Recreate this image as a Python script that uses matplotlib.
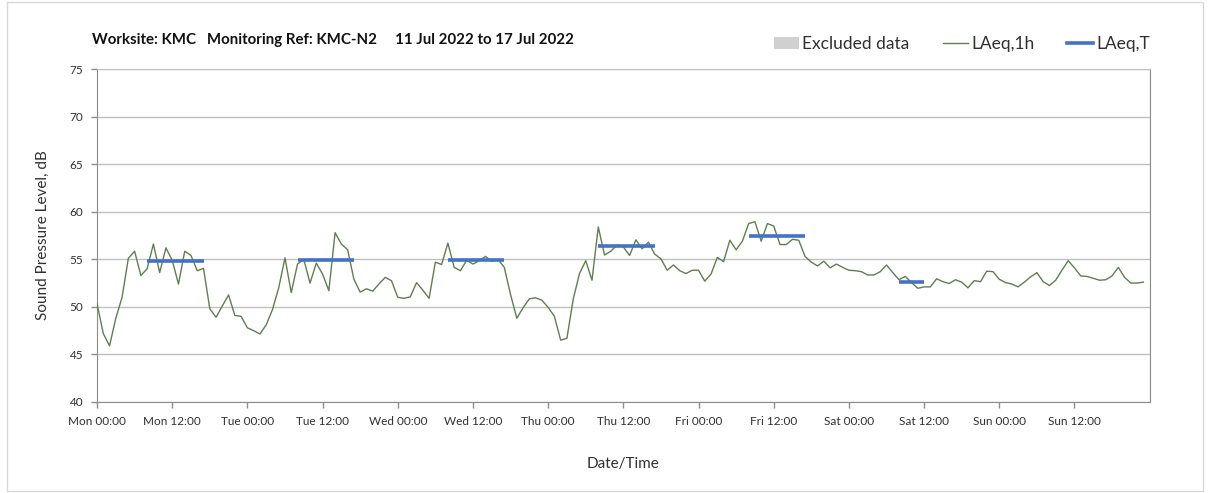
import numpy as np
import pandas as pd
import matplotlib
matplotlib.use("Agg")
import matplotlib.pyplot as plt
from matplotlib.patches import Patch, Rectangle
from matplotlib.lines import Line2D

plt.rcParams['font.family'] = ['Lato', 'DejaVu Sans']

# hourly LAeq,1h from Mon 11 Jul 2022 00:00
laeq_1h = [
    50.35, 47.2, 45.9, 48.8, 51.0, 55.1, 55.85, 53.3, 54.0, 56.6, 53.6, 56.2,
    54.9, 52.4, 55.85, 55.4, 53.8, 54.05, 49.8, 48.9, 50.1, 51.25, 49.1, 49.0,
    47.8, 47.5, 47.15, 48.1, 49.7, 52.0, 55.15, 51.5, 54.5, 55.0, 52.5, 54.6,
    53.45, 51.7, 57.8, 56.6, 56.0, 52.9, 51.55, 51.9, 51.65, 52.4, 53.1, 52.75,
    51.0, 50.9, 51.05, 52.55, 51.75, 50.9, 54.7, 54.45, 56.7, 54.15, 53.8, 54.9,
    54.5, 54.85, 55.3, 54.8, 55.0, 54.15, 51.3, 48.8, 49.9, 50.85, 50.95, 50.7,
    49.95, 49.0, 46.5, 46.7, 50.8, 53.5, 54.85, 52.8, 58.4, 55.45, 55.85, 56.5,
    56.3, 55.4, 57.05, 56.1, 56.8, 55.55, 55.05, 53.85, 54.4, 53.8, 53.5, 53.85,
    53.85, 52.7, 53.45, 55.2, 54.75, 57.0, 56.0, 56.9, 58.75, 58.95, 56.9, 58.75,
    58.5, 56.55, 56.55, 57.1, 57.0, 55.3, 54.7, 54.3, 54.8, 54.1, 54.5, 54.15,
    53.85, 53.8, 53.7, 53.35, 53.35, 53.7, 54.4, 53.6, 52.85, 53.2, 52.55, 51.95,
    52.1, 52.1, 52.95, 52.65, 52.45, 52.85, 52.6, 52.0, 52.75, 52.65, 53.75, 53.7,
    52.9, 52.55, 52.4, 52.1, 52.6, 53.15, 53.6, 52.65, 52.25, 52.8, 53.85, 54.85,
    54.1, 53.25, 53.2, 53.0, 52.8, 52.85, 53.25, 54.15, 53.1, 52.5, 52.5, 52.6,
]

# LAeq,T periods: (start hour, end hour, level)
period_start = [8, 32, 56, 80, 104, 128]
period_end = [17, 41, 65, 89, 113, 132]
laeq_t = [54.8, 54.9, 54.9, 56.4, 57.5, 52.6]

excluded = []  # no excluded periods this week

times = pd.date_range("2022-07-11 00:00", periods=len(laeq_1h), freq="h")
t0 = pd.Timestamp("2022-07-11 00:00")

fig = plt.figure(figsize=(12.08, 4.93), dpi=100)
ax = fig.add_axes([0.0803, 0.1846, 0.8714, 0.6754])

for s, e in excluded:
    ax.axvspan(t0 + pd.Timedelta(hours=s), t0 + pd.Timedelta(hours=e), color="#d0d0d0", lw=0)

ax.plot(times, laeq_1h, color="#5f7f4f", lw=1.0, zorder=3)
for s, e, v in zip(period_start, period_end, laeq_t):
    ax.plot([t0 + pd.Timedelta(hours=s), t0 + pd.Timedelta(hours=e)], [v, v],
            color="#4472c4", lw=2.6, solid_capstyle="butt", zorder=4)

ax.set_ylim(40, 75)
ax.set_yticks(range(40, 76, 5))
ax.set_xlim(t0, t0 + pd.Timedelta(days=7))
xt = [t0 + pd.Timedelta(hours=12 * i) for i in range(14)]
ax.set_xticks(xt)
ax.set_xticklabels([t.strftime("%a %H:%M") for t in xt])
ax.set_xticks([t0 + pd.Timedelta(days=i) for i in range(8)], minor=True)

ax.grid(axis="y", color="#c0c0c0", lw=1.0)
ax.grid(axis="x", which="minor", color="#dcdcdc", lw=1.0)
ax.grid(axis="x", which="major", visible=False)
ax.set_axisbelow(True)

for side in ["left", "bottom", "right"]:
    ax.spines[side].set_color("#8c8c8c")
ax.spines["top"].set_color("#c0c0c0")
ax.tick_params(axis="both", which="major", labelsize=8.5, colors="#8c8c8c",
               labelcolor="#303030", length=4, width=1, pad=6)
ax.tick_params(axis="x", which="minor", length=0)

ax.set_ylabel("Sound Pressure Level, dB", fontsize=11, color="#303030", labelpad=14)
ax.set_xlabel("Date/Time", fontsize=11, color="#303030", labelpad=22)

fig.text(0.0762, 0.918, "Worksite: KMC   Monitoring Ref: KMC-N2     11 Jul 2022 to 17 Jul 2022",
         fontsize=10.8, fontweight="bold", color="#111111", va="center")

handles = [Patch(facecolor="#d0d0d0", edgecolor="none"),
           Line2D([], [], color="#5f7f4f", lw=1.0),
           Line2D([], [], color="#4472c4", lw=2.6)]
fig.legend(handles, ["Excluded data", "LAeq,1h", "LAeq,T"], ncol=3, frameon=False,
           loc="center right", bbox_to_anchor=(0.959, 0.91), fontsize=12.5,
           handlelength=1.45, handletextpad=0.2, columnspacing=1.9, borderpad=0,
           labelcolor="#303030")

fig.patches.append(Rectangle((0.006, 0.004), 0.99, 0.992, transform=fig.transFigure,
                             fill=False, edgecolor="#d9d9d9", lw=1.0))

fig.savefig("out.png", dpi=100)
